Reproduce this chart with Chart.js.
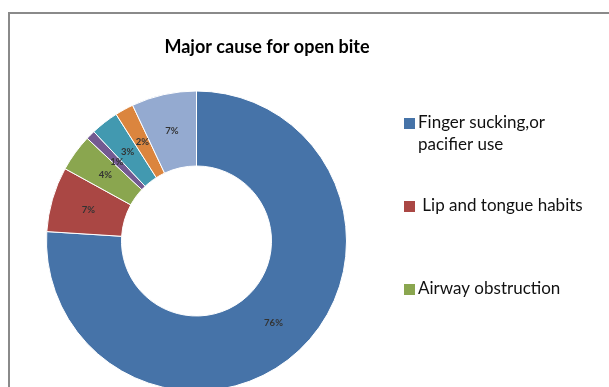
<!DOCTYPE html>
<html>
<head>
<meta charset="utf-8">
<title>Major cause for open bite</title>
<script src="https://cdn.jsdelivr.net/npm/chart.js@4/dist/chart.umd.min.js"></script>
<style>
  html, body { margin: 0; padding: 0; background: #fff; overflow: hidden; }
  #frame { position: absolute; left: 8px; top: 12px; width: 720px; height: 520px; border: 2px solid #8a8a8a; }
  #wrap { position: absolute; left: 0; top: 0; width: 609px; height: 400px; }
</style>
</head>
<body>
<div id="frame"></div>
<div id="wrap"><canvas id="causeChart" width="609" height="400"></canvas></div>
<script>
const chartTitle = 'Major cause for open bite';
const causes = [
  'Finger sucking,or pacifier use',
  ' Lip and tongue habits',
  'Airway obstruction',
  'Heredity',
  'Trauma',
  'TMJ problems',
  'Other'
];
const shares = [76, 7, 4, 1, 3, 2, 7];
const sliceColors = ['#4673a8', '#aa4744', '#8aa64f', '#735a91', '#4299b0', '#db853e', '#94aad0'];

const FONT = 'Lato, "Open Sans", sans-serif';

// percentage printed in the middle of each ring segment
const sliceLabels = {
  id: 'sliceLabels',
  afterDatasetsDraw(chart) {
    const { ctx } = chart;
    const meta = chart.getDatasetMeta(0);
    ctx.save();
    ctx.font = 'bold 9.5px ' + FONT;
    ctx.fillStyle = '#333';
    ctx.textAlign = 'center';
    ctx.textBaseline = 'middle';
    meta.data.forEach((arc, i) => {
      const p = arc.getCenterPoint();
      ctx.fillText(chart.data.datasets[0].data[i] + '%', p.x, p.y);
    });
    ctx.restore();
  }
};

// break a name at the last space that keeps the first line short enough
function wrapName(ctx, text, maxWidth) {
  if (ctx.measureText(text).width <= maxWidth) return [text];
  let cut = text.lastIndexOf(' ');
  while (cut > 0 && ctx.measureText(text.slice(0, cut)).width > maxWidth) {
    cut = text.lastIndexOf(' ', cut - 1);
  }
  if (cut <= 0) return [text];
  return [text.slice(0, cut), text.slice(cut + 1)];
}

// title and the side legend (only the first three rows fit)
const sideText = {
  id: 'sideText',
  afterDraw(chart) {
    const { ctx } = chart;
    ctx.save();
    ctx.fillStyle = '#000';
    ctx.font = 'bold 18px ' + FONT;
    ctx.textAlign = 'center';
    ctx.textBaseline = 'middle';
    ctx.fillText(chartTitle, 267, 47);

    const rowY = [123, 206, 289];
    ctx.font = '17px ' + FONT;
    ctx.textAlign = 'left';
    rowY.forEach((y, i) => {
      ctx.fillStyle = sliceColors[i];
      ctx.fillRect(404, y - 5, 11, 11);
      ctx.fillStyle = '#111';
      wrapName(ctx, chart.data.labels[i], 165)
        .forEach((t, k) => ctx.fillText(t, 418, y + k * 22));
    });
    ctx.restore();
  }
};

new Chart(document.getElementById('causeChart'), {
  type: 'doughnut',
  data: {
    labels: causes,
    datasets: [{
      data: shares,
      backgroundColor: sliceColors,
      borderColor: '#ffffff',
      borderWidth: 1,
      hoverOffset: 0
    }]
  },
  options: {
    responsive: false,
    animation: false,
    events: [],
    cutout: '50%',
    layout: { padding: { left: 46, top: 90, right: 262, bottom: 8 } },
    plugins: {
      legend: { display: false },
      title: { display: false },
      tooltip: { enabled: false }
    }
  },
  plugins: [sliceLabels, sideText]
});
</script>
</body>
</html>
